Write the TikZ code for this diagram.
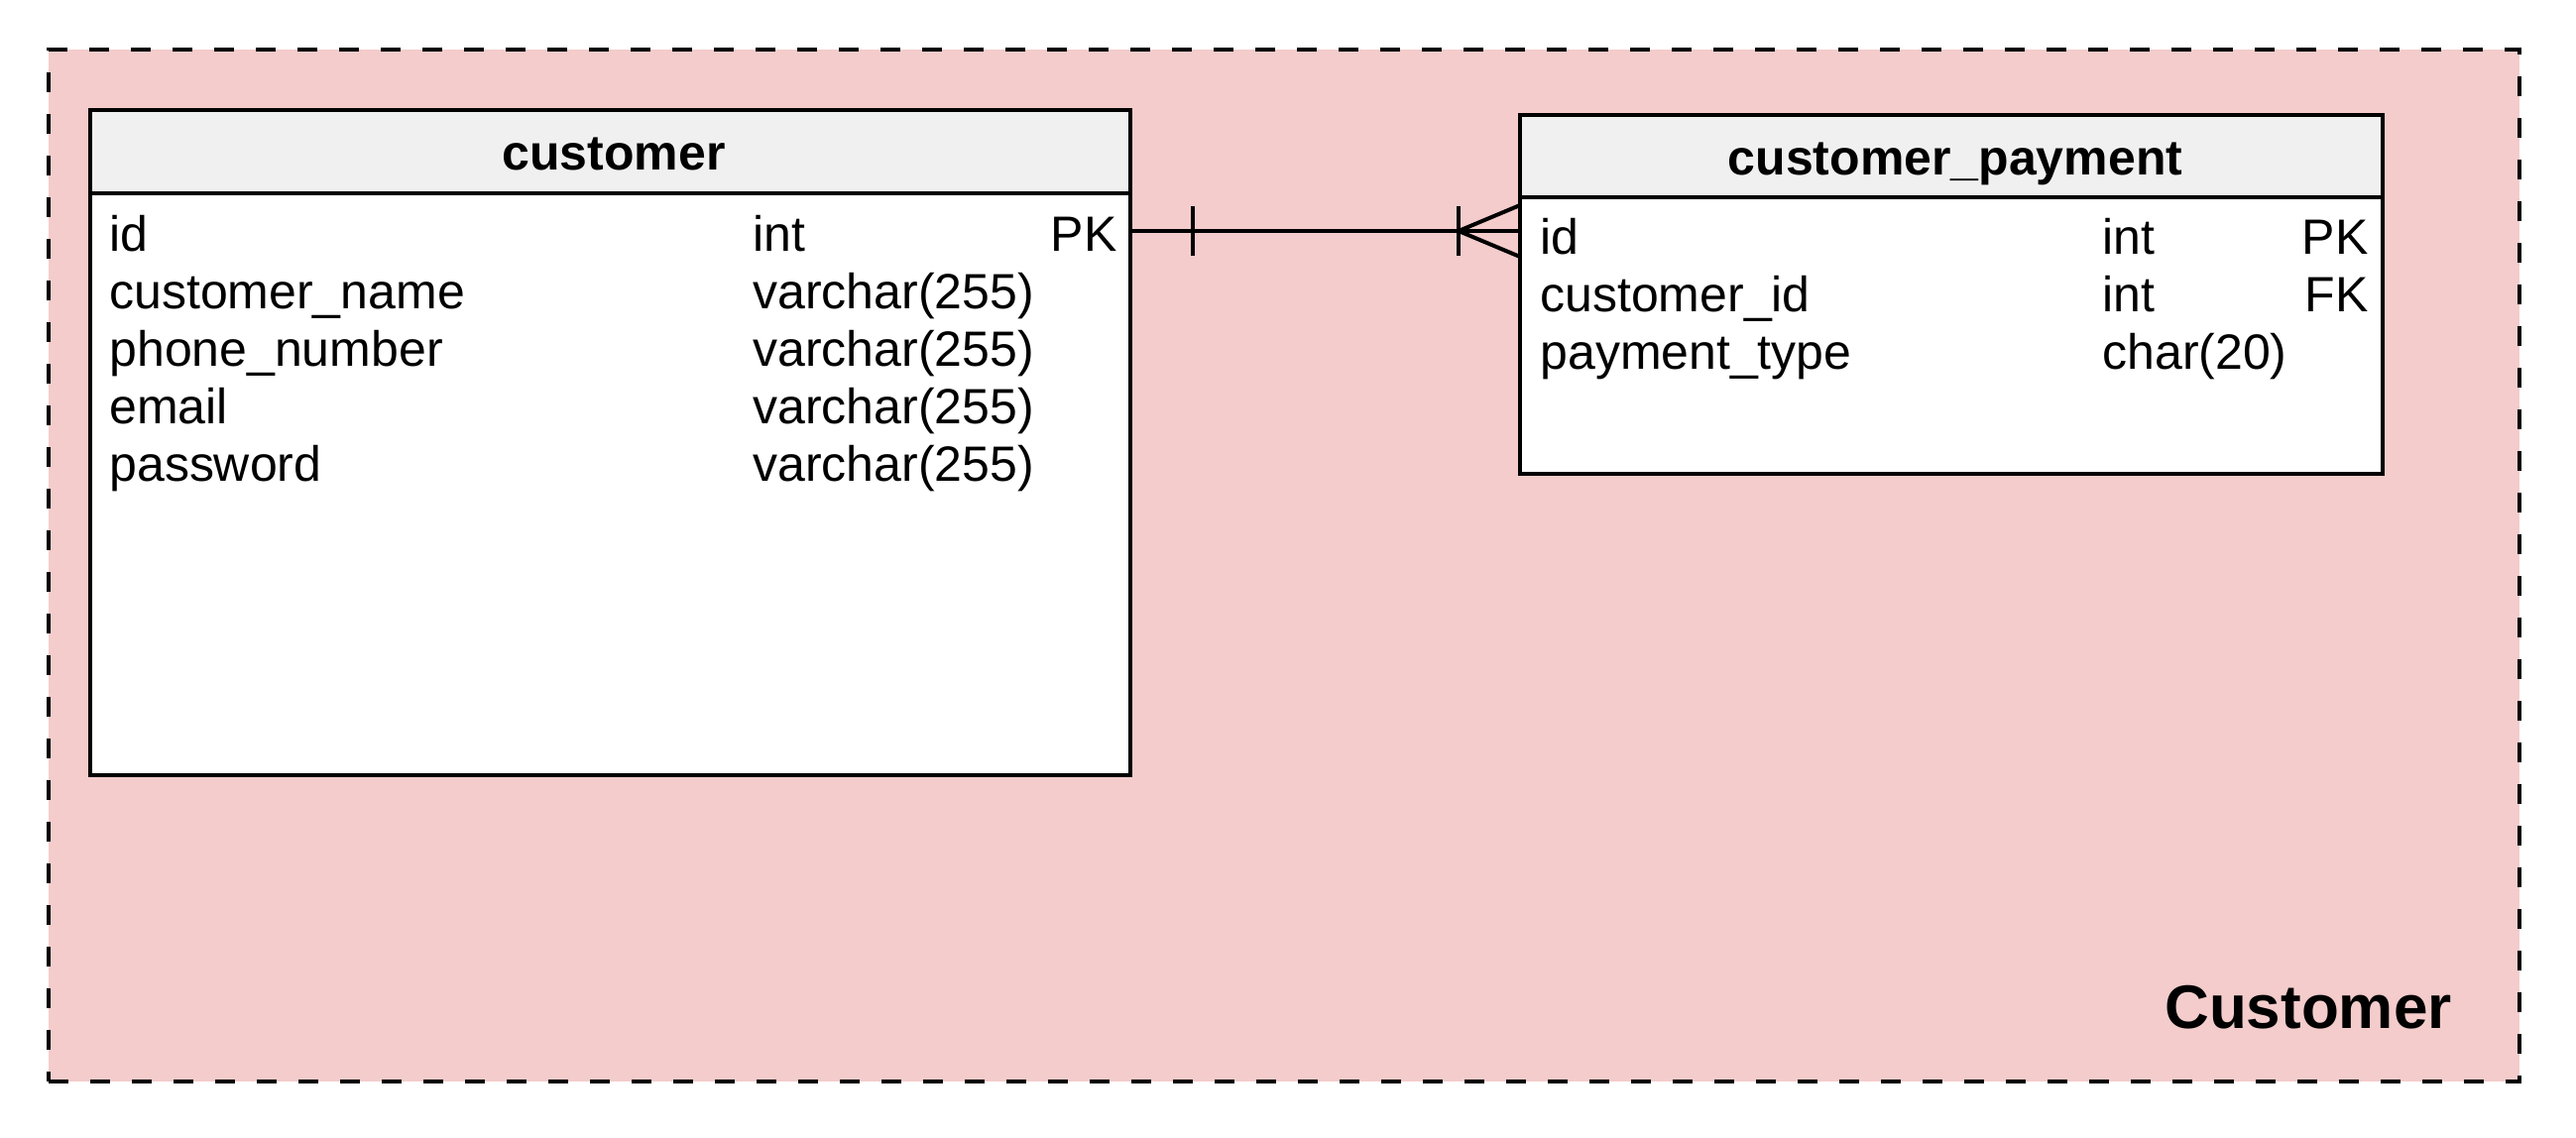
\documentclass[tikz,border=0pt]{standalone}
\usepackage{fontspec}
\setmainfont{Liberation Sans}
\usetikzlibrary{calc}
\definecolor{grpfill}{HTML}{F4CCCC}
\definecolor{hdrfill}{HTML}{F0F0F0}
\begin{document}
\begin{tikzpicture}[x=0.5pt,y=-0.5pt,
  grpbox/.style={draw, dash pattern=on 10pt off 11pt, line width=2pt, fill=grpfill, anchor=north west, inner sep=0pt, outer sep=0pt},
  grplabel/.style={anchor=base east, inner sep=0pt, font=\fontsize{31pt}{37pt}\selectfont\bfseries},
  tbody/.style={draw, line width=2pt, fill=white, anchor=north west, inner sep=0pt, outer sep=0pt},
  thead/.style={draw, line width=2pt, fill=hdrfill, anchor=north west, inner sep=0pt, outer sep=0pt},
  htext/.style={anchor=base, inner sep=0pt, font=\fontsize{25pt}{30pt}\selectfont\bfseries},
  cellL/.style={anchor=base west, inner sep=0pt, font=\fontsize{25pt}{30pt}\selectfont},
  cellR/.style={anchor=base east, inner sep=0pt, font=\fontsize{25pt}{30pt}\selectfont},
  rel/.style={line width=2pt}]
\useasboundingbox (0,0) rectangle (2598,1147);

% group
\node[grpbox, minimum width=1246pt, minimum height=520.5pt] (grp) at (49,50) {};
\node[grplabel] (grplbl) at (2473,1037) {Customer};

% customer table
\node[tbody, minimum width=524.5pt, minimum height=335.5pt] (cust) at (91,111) {};
\node[thead, minimum width=524.5pt, minimum height=42pt] (custhead) at (91,111) {};
\node[htext] (custtitle) at (619,171) {customer};
\node[cellL] (c1n) at (110,253) {id};
\node[cellL] (c1t) at (759,253) {int};
\node[cellR] (c1k) at (1127,253) {PK};
\node[cellL] (c2n) at (110,311) {customer\_name};
\node[cellL] (c2t) at (759,311) {varchar(255)};
\node[cellL] (c3n) at (110,369) {phone\_number};
\node[cellL] (c3t) at (759,369) {varchar(255)};
\node[cellL] (c4n) at (110,427) {email};
\node[cellL] (c4t) at (759,427) {varchar(255)};
\node[cellL] (c5n) at (110,485) {password};
\node[cellL] (c5t) at (759,485) {varchar(255)};

% customer_payment table
\node[tbody, minimum width=435pt, minimum height=181pt] (pay) at (1533,116) {};
\node[thead, minimum width=435pt, minimum height=41.5pt] (payhead) at (1533,116) {};
\node[htext] (paytitle) at (1972,176) {customer\_payment};
\node[cellL] (p1n) at (1553,256) {id};
\node[cellL] (p1t) at (2120,256) {int};
\node[cellR] (p1k) at (2389,256) {PK};
\node[cellL] (p2n) at (1553,314) {customer\_id};
\node[cellL] (p2t) at (2120,314) {int};
\node[cellR] (p2k) at (2389,314) {FK};
\node[cellL] (p3n) at (1553,372) {payment\_type};
\node[cellL] (p3t) at (2120,372) {char(20)};

% relationship: one (customer) to many (customer_payment)
\coordinate (relrow) at (0,233);
\coordinate (ra) at (cust.east |- relrow);
\coordinate (rb) at (pay.west |- relrow);
\draw[rel] (ra) -- (rb);
\draw[rel] ($(ra)+(63,-25)$) -- ($(ra)+(63,25)$);
\draw[rel] ($(rb)+(-62,-25)$) -- ($(rb)+(-62,25)$);
\draw[rel] ($(rb)+(0,-26)$) -- ($(rb)+(-62,0)$) -- ($(rb)+(0,26)$);
\end{tikzpicture}
\end{document}
